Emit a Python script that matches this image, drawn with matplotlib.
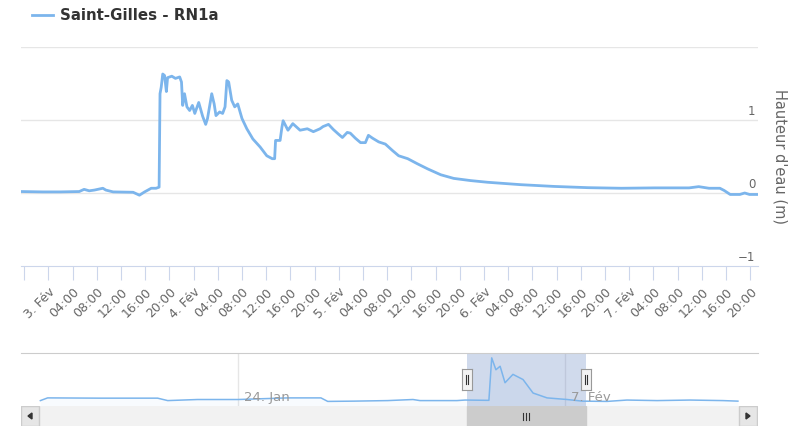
import numpy as np
import matplotlib
matplotlib.use("Agg")
import matplotlib.pyplot as plt
from matplotlib.patches import Rectangle
import matplotlib.transforms as mtrans

# main series: hours after 3 Feb 00:00, water level (m)
HOURS = [-4.5, -1, 2, 5.1, 5.9, 6.75, 7.6, 9.0, 9.5, 10.7, 14.0, 15.05, 15.9, 17.0, 17.8,
         18.3, 18.45, 18.65, 18.9, 19.2, 19.5, 19.7, 20.4, 21.0, 21.7, 22.0, 22.2, 22.5,
         22.9, 23.35, 23.8, 24.2, 24.85, 25.5, 26.0, 26.3, 27.0, 27.4, 27.7, 28.3, 28.8,
         29.2, 29.5, 29.8, 30.3, 30.8, 31.3, 32.0, 32.8, 33.8, 35.0, 36.1, 37.0, 37.4,
         37.55, 38.3, 38.6, 38.8, 39.6, 40.4, 41.6, 42.8, 43.8, 44.9, 45.4, 46.3, 47.1,
         47.9, 48.6, 49.4, 49.9, 50.75, 51.6, 52.4, 52.9, 53.6, 54.6, 55.7, 56.9, 57.9,
         59.4, 61.0, 62.7, 64.85, 67.0, 69.8, 72.6, 78.1, 83.6, 89.2, 94.7, 100.2, 105.9,
         107.5, 109.2, 111.0, 111.7, 112.7, 114.3, 115.1, 115.9, 117.3]
LEVEL = [0.02, 0.015, 0.015, 0.02, 0.05, 0.03, 0.04, 0.065, 0.04, 0.015, 0.01, -0.03, 0.015,
         0.065, 0.065, 0.08, 1.36, 1.45, 1.63, 1.61, 1.39, 1.58, 1.6, 1.57, 1.59, 1.52, 1.2,
         1.36, 1.18, 1.13, 1.2, 1.09, 1.24, 1.05, 0.94, 1.02, 1.36, 1.22, 1.06, 1.11, 1.09,
         1.18, 1.54, 1.52, 1.27, 1.18, 1.22, 1.02, 0.88, 0.74, 0.63, 0.51, 0.47, 0.47, 0.72,
         0.72, 0.9, 0.99, 0.86, 0.95, 0.86, 0.88, 0.84, 0.88, 0.91, 0.94, 0.87, 0.81, 0.76,
         0.83, 0.82, 0.75, 0.69, 0.69, 0.79, 0.75, 0.70, 0.67, 0.58, 0.51, 0.47, 0.40, 0.33,
         0.25, 0.20, 0.17, 0.147, 0.114, 0.09, 0.073, 0.065, 0.07, 0.07, 0.087, 0.065, 0.065,
         0.035, -0.02, -0.02, 0.0, -0.02, -0.02]

# navigator (grouped) series, days after 24 Jan 00:00
NAV_DAYS = [-8.46, -8.15, -5.9, -3.44, -3.01, -1.73, 0.0, 2.13, 3.55, 3.84, 4.97,
            6.41, 7.49, 7.79, 9.37, 9.72, 10.65, 10.74, 10.86, 11.04, 11.22, 11.43,
            11.77, 12.2, 12.63, 13.23, 14.09, 14.73, 15.8, 16.65, 17.94, 19.35, 20.76, 21.4]
NAV_LEVEL = [-0.01, 0.09, 0.08, 0.08, -0.01, 0.03, 0.03, 0.09, 0.09, -0.04, -0.03,
             -0.01, 0.03, -0.01, -0.01, 0.01, 0.0, 0.0, 1.57, 1.13, 1.26, 0.65,
             0.96, 0.77, 0.27, 0.09, 0.03, -0.03, -0.04, 0.01, -0.01, 0.01, -0.01, -0.03]

SERIES = "Saint-Gilles - RN1a"
YLABEL = "Hauteur d'eau (m)"
NAV_TICKS = [0, 14]
NAV_TICKLABELS = ["24. Jan", "7. Fév"]

BLUE = "#7cb5ec"
W, H = 796, 427

plt.rcParams["font.family"] = ["DejaVu Sans"]
fig = plt.figure(figsize=(W / 100, H / 100), dpi=100)


def rect(x0, y0, x1, y1):
    return [x0 / W, 1 - y1 / H, (x1 - x0) / W, (y1 - y0) / H]


# ---- main chart ----
XLIM = (-4.53, 117.3)
ax = fig.add_axes(rect(21, 48, 758, 267))
ax.plot(HOURS, LEVEL, color=BLUE, lw=2, solid_joinstyle="round")
ax.set_xlim(*XLIM)
ax.set_ylim(-1, 2)
for v in (0, 1, 2):
    ax.axhline(v, color="#e6e6e6", lw=1, zorder=0)
for s in ("top", "left", "right"):
    ax.spines[s].set_visible(False)
ax.spines["bottom"].set_color("#ccd6eb")
ax.set_yticks([])

ticks = np.arange(-4, 117, 4)
labels = []
for t in ticks:
    if t < 0:
        labels.append("")
    elif t % 24 == 0:
        labels.append(f"{3 + t // 24}. Fév")
    else:
        labels.append(f"{t % 24:02d}:00")
ax.set_xticks(ticks)
ax.set_xticklabels(labels, rotation=45, ha="right", va="top", rotation_mode="anchor",
                   fontsize=9, color="#666666")
ax.tick_params(axis="x", length=10, color="#ccd6eb", pad=3)

trans = mtrans.offset_copy(ax.get_yaxis_transform(), fig=fig, x=-2, y=2, units="points")
for v in (-1, 0, 1):
    ax.text(1.0, v, "\u22121" if v < 0 else str(v), transform=trans, ha="right", va="bottom",
            fontsize=8.5, color="#666666")
fig.text(780 / W, 1 - 157 / H, YLABEL, rotation=270, ha="center", va="center",
         fontsize=10.5, color="#666666")

# legend
fig.add_artist(plt.Line2D([32 / W, 53 / W], [1 - 16 / H, 1 - 16 / H], color=BLUE, lw=2))
fig.text(60 / W, 1 - 16 / H, SERIES, ha="left", va="center", fontsize=10.8,
         fontweight="bold", color="#333333")

# ---- navigator ----
nav = fig.add_axes(rect(21, 354, 758, 407))
nav.plot(NAV_DAYS, NAV_LEVEL, color=BLUE, lw=1.1)
nav.fill_between(NAV_DAYS, NAV_LEVEL, -0.21, color=BLUE, alpha=0.05, lw=0)
nav.set_xlim(-9.29, 22.26)
nav.set_ylim(-0.21, 1.75)
for s in ("left", "right", "bottom"):
    nav.spines[s].set_visible(False)
nav.spines["top"].set_color("#cccccc")
nav.set_xticks([])
nav.set_yticks([])
for d, lab in zip(NAV_TICKS, NAV_TICKLABELS):
    nav.axvline(d, color="#e6e6e6", lw=1, zorder=0)
    nav.text(d + 0.25, 0.13, lab, ha="left", va="center", fontsize=9.5, color="#999999")
m0, m1 = 10 + XLIM[0] / 24, 10 + XLIM[1] / 24
nav.axvspan(m0, m1, color=(102 / 255, 133 / 255, 194 / 255), alpha=0.3, lw=0)

# handles
for d in (m0, m1):
    xp = 21 + (d + 9.29) / 31.55 * 737
    hax = fig.add_axes(rect(xp - 5, 370, xp + 5, 391))
    hax.set_facecolor("#f2f2f2")
    for s in hax.spines.values():
        s.set_color("#999999")
    hax.set_xticks([]); hax.set_yticks([])
    hax.set_xlim(0, 10); hax.set_ylim(0, 21)
    hax.plot([4, 4], [6, 15], color="#333333", lw=0.8)
    hax.plot([6, 6], [6, 15], color="#333333", lw=0.8)

# ---- scrollbar ----
sb = fig.add_axes(rect(21, 407, 758, 427))
sb.set_xlim(21, 758); sb.set_ylim(427, 407)
sb.set_facecolor("#f2f2f2")
for s in sb.spines.values():
    s.set_visible(False)
sb.set_xticks([]); sb.set_yticks([])
x0p = 21 + (m0 + 9.29) / 31.55 * 737
x1p = 21 + (m1 + 9.29) / 31.55 * 737
sb.add_patch(Rectangle((x0p, 407), x1p - x0p, 20, fc="#cccccc", ec="#cccccc"))
xc = (x0p + x1p) / 2
for dx in (-3, 0, 3):
    sb.plot([xc + dx, xc + dx], [414, 421], color="#333333", lw=0.8)
sb.add_patch(Rectangle((21, 407), 18, 19.5, fc="#e6e6e6", ec="#cccccc", lw=1))
sb.add_patch(Rectangle((739, 407), 18.5, 19.5, fc="#e6e6e6", ec="#cccccc", lw=1))
sb.fill([28, 32, 32], [417, 414, 420], color="#333333")
sb.fill([750, 746, 746], [417, 414, 420], color="#333333")

fig.savefig("out.png", dpi=100)
